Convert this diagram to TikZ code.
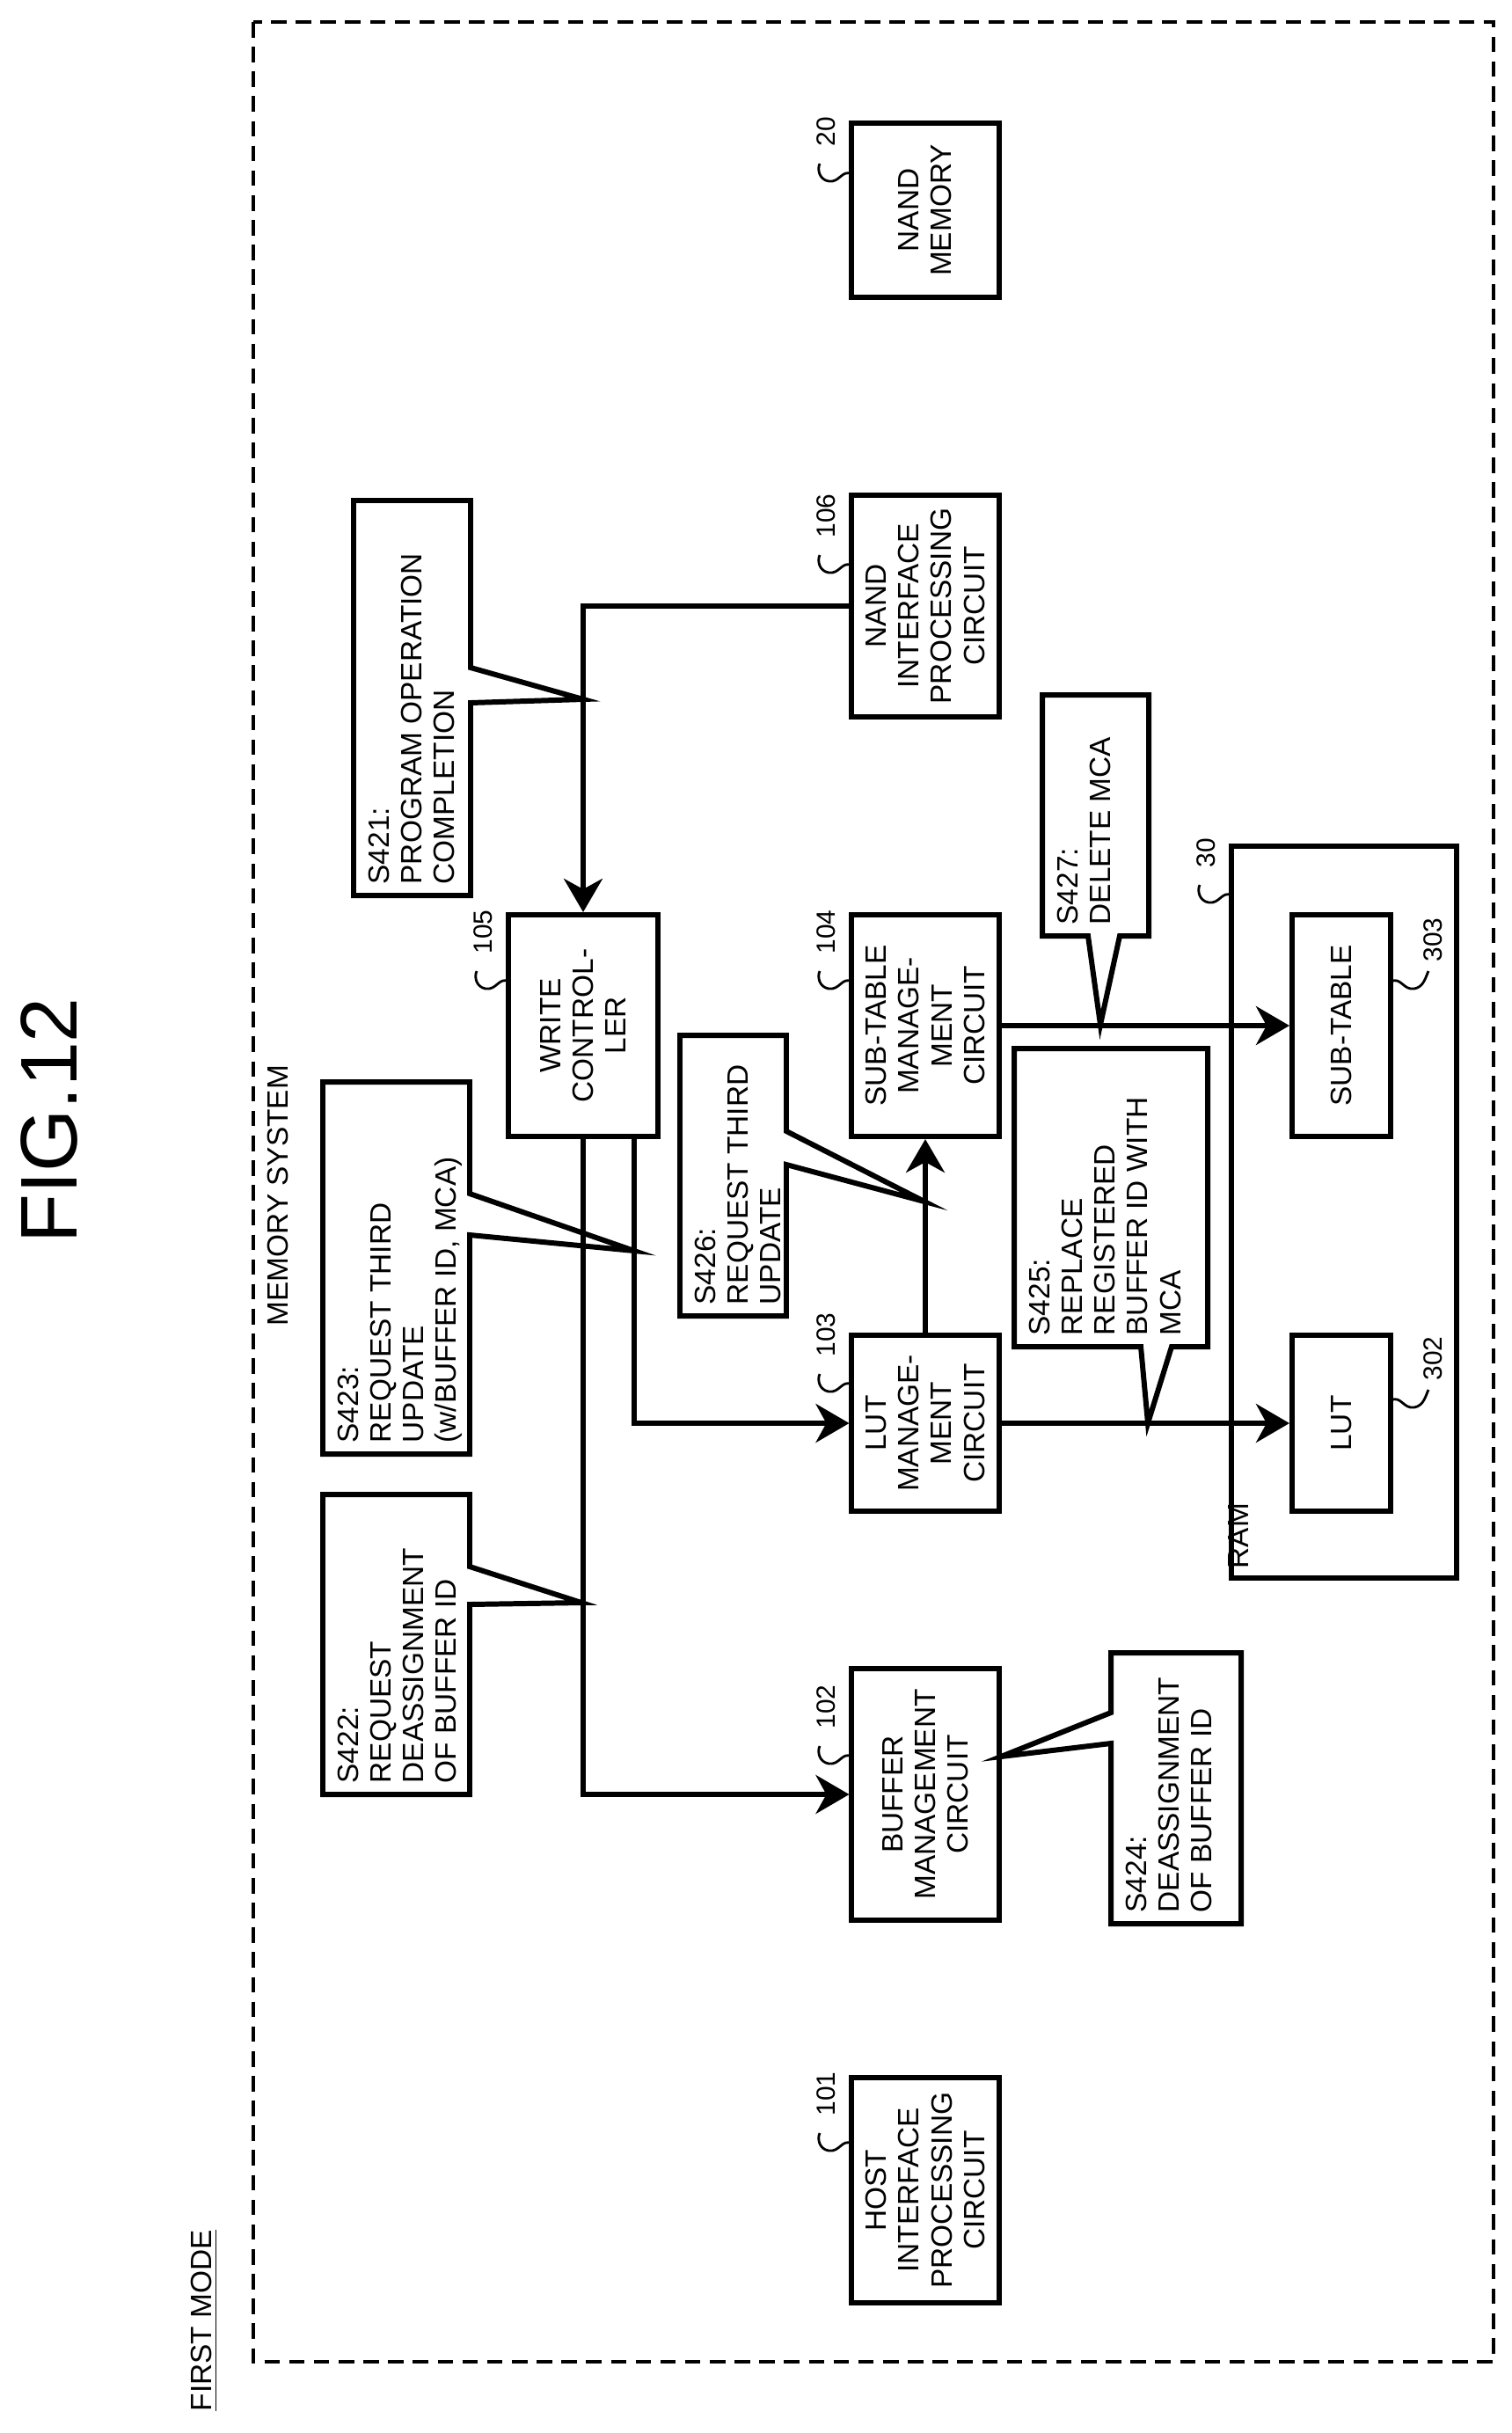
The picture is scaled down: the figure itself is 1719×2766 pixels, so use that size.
\documentclass[tikz,border=0pt]{standalone}
\usepackage{fontspec}
\setmainfont{Liberation Sans}
\usetikzlibrary{positioning, arrows.meta}

\newcommand{\refmark}[3]{%
  \draw[squig] (#1,#2) .. controls ({#1-12},{#2-6}) and ({#1-14},{#2+10}) .. ({#1-27},{#2+8})
    .. controls ({#1-38},{#2+6}) and ({#1-40},{#2-6}) .. ({#1-37},{#2-12});
  \node[refnum] at ({#1-20},{#2-31}) {#3};}
\newcommand{\refmarkR}[3]{%
  \draw[squig] (#1,#2) .. controls ({#1+12},{#2-6}) and ({#1+14},{#2+10}) .. ({#1+27},{#2+8})
    .. controls ({#1+38},{#2+6}) and ({#1+40},{#2-6}) .. ({#1+43},{#2-12});
  \node[refnum] at ({#1+58},{#2-22}) {#3};}

\begin{document}
\begin{tikzpicture}[
x=0.01cm, y=-0.01cm,
blk/.style={rectangle, draw=black, line width=1.7pt, rotate=90, align=center, inner sep=0pt,
  font=\fontsize{9.5}{10.6}\selectfont},
note/.style={rotate=90, anchor=north west, align=left, inner sep=0pt,
  font=\fontsize{9.5}{10.6}\selectfont},
callout/.style={draw=black, line width=1.7pt, line join=miter},
squig/.style={line width=0.8pt},
refnum/.style={rotate=90, anchor=base west, inner sep=0pt, font=\fontsize{8.5}{9}\selectfont},
arr/.style={line width=1.5pt, -{Stealth[length=0.38cm, width=0.44cm, inset=0.12cm]}},
line/.style={line width=1.5pt}
]
\useasboundingbox (0,0) rectangle (1719,2766);

%Frame and titles
\draw[line width=1.1pt, dash pattern=on 5pt off 3pt] (288,25) rectangle (1698,2685);
\node[rotate=90, font=\fontsize{26}{28}\selectfont] (FIG) at (56,1274) {FIG.12};
\node[rotate=90, anchor=base west, inner sep=0pt, font=\fontsize{9.5}{10}\selectfont] (MS) at (327,1508) {MEMORY SYSTEM};
\node[rotate=90, anchor=base west, inner sep=0pt, font=\fontsize{9.5}{10}\selectfont] (FM) at (240,2742) {\underline{FIRST MODE}};

%Nodes
\node[blk, minimum width=1.98cm, minimum height=1.67cm] (NM)  at (1052,239)  {NAND\\MEMORY};
\node[blk, minimum width=2.52cm, minimum height=1.67cm] (NIF) at (1052,689)  {NAND\\INTERFACE\\PROCESSING\\CIRCUIT};
\node[blk, minimum width=2.52cm, minimum height=1.69cm] (WC)  at (663,1166)  {WRITE\\CONTROL-\\LER};
\node[blk, minimum width=2.52cm, minimum height=1.67cm] (STM) at (1052,1166) {SUB-TABLE\\MANAGE-\\MENT\\CIRCUIT};
\node[blk, minimum width=2.00cm, minimum height=1.67cm] (LM)  at (1052,1618) {LUT\\MANAGE-\\MENT\\CIRCUIT};
\node[blk, minimum width=2.85cm, minimum height=1.67cm] (BM)  at (1052,2040) {BUFFER\\MANAGEMENT\\CIRCUIT};
\node[blk, minimum width=2.55cm, minimum height=1.67cm] (HIF) at (1052,2490) {HOST\\INTERFACE\\PROCESSING\\CIRCUIT};
\node[blk, minimum width=8.32cm, minimum height=2.55cm] (RAM) at (1528,1378) {};
\node[blk, minimum width=2.52cm, minimum height=1.12cm] (ST)  at (1525,1166) {SUB-TABLE};
\node[blk, minimum width=2.00cm, minimum height=1.12cm] (LUT) at (1525,1618) {LUT};
\node[note, anchor=south west] (RAMT) at (1420,1784) {RAM};

%Reference signs
\refmark{969}{198}{20}
\refmark{969}{643}{106}
\refmark{579}{1116}{105}
\refmark{969}{1116}{104}
\refmark{969}{1574}{103}
\refmark{969}{1997}{102}
\refmark{969}{2437}{101}
\refmark{1401}{1018}{30}
\refmarkR{1581}{1116}{303}
\refmarkR{1581}{1592}{302}

%Lines
\draw[arr] (NIF.north) -| (WC.east);
\draw[arr] (WC.west) |- (BM.north);
\draw[arr] ([xshift=0.58cm]WC.west) |- (LM.north);
\draw[arr] (LM.east) -- (STM.west);
\draw[arr] (STM.south) -- (ST.north);
\draw[arr] (LM.south) -- (LUT.north);

%Callouts
\draw[callout] (402,569) -- (535,569) -- (535,759) -- (663,795) -- (535,799) -- (535,1018) -- (402,1018) -- cycle;
\node[note] (S421) at (418,1006) {S421:\\PROGRAM OPERATION\\COMPLETION};
\draw[callout] (367,1230) -- (534,1230) -- (534,1357) -- (721,1422) -- (534,1404) -- (534,1653) -- (367,1653) -- cycle;
\node[note] (S423) at (383,1641) {S423:\\REQUEST THIRD\\UPDATE\\(w/BUFFER ID, MCA)};
\draw[callout] (367,1699) -- (534,1699) -- (534,1781) -- (661,1822) -- (534,1824) -- (534,2040) -- (367,2040) -- cycle;
\node[note] (S422) at (383,2028) {S422:\\REQUEST\\DEASSIGNMENT\\OF BUFFER ID};
\draw[callout] (773,1177) -- (894,1177) -- (894,1286) -- (1051,1366) -- (894,1324) -- (894,1496) -- (773,1496) -- cycle;
\node[note] (S426) at (789,1484) {S426:\\REQUEST THIRD\\UPDATE};
\draw[callout] (1185,790) -- (1306,790) -- (1306,1064) -- (1273,1064) -- (1251,1165) -- (1237,1064) -- (1185,1064) -- cycle;
\node[note] (S427) at (1201,1052) {S427:\\DELETE MCA};
\draw[callout] (1153,1192) -- (1373,1192) -- (1373,1531) -- (1332,1531) -- (1305,1618) -- (1297,1531) -- (1153,1531) -- cycle;
\node[note] (S425) at (1169,1519) {S425:\\REPLACE\\REGISTERED\\BUFFER ID WITH\\MCA};
\draw[callout] (1263,1879) -- (1411,1879) -- (1411,2187) -- (1263,2187) -- (1263,1982) -- (1138,1997) -- (1263,1947) -- cycle;
\node[note] (S424) at (1279,2175) {S424:\\DEASSIGNMENT\\OF BUFFER ID};
\end{tikzpicture}
\end{document}
